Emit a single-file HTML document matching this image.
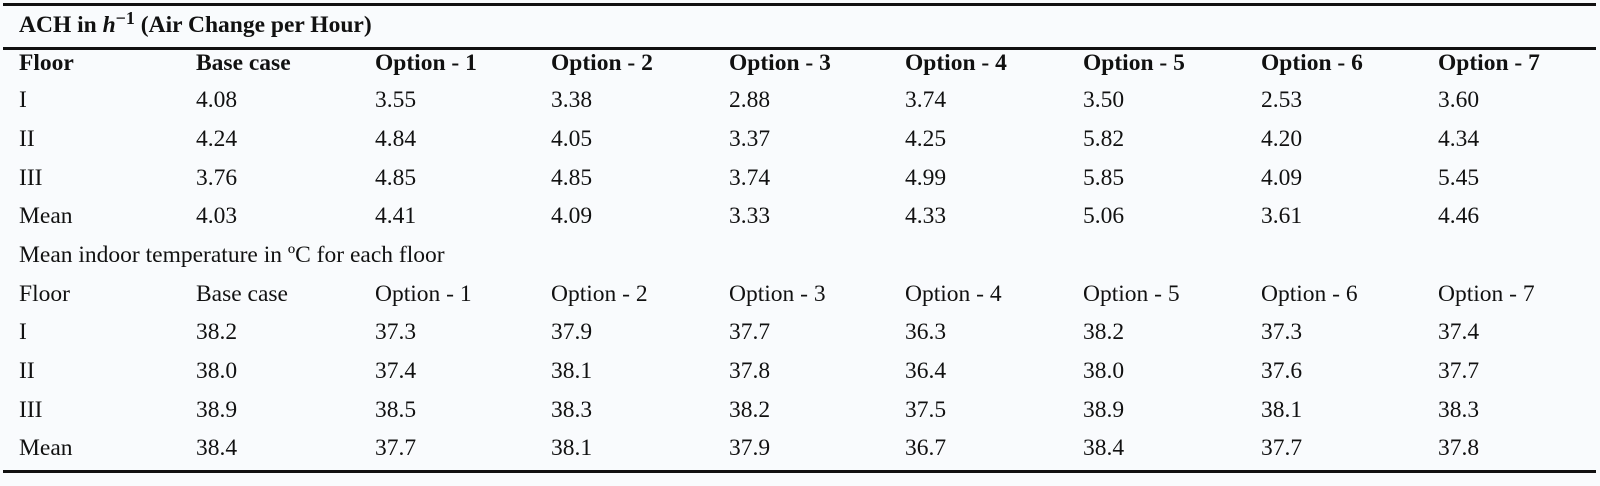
<!DOCTYPE html>
<html><head><meta charset="utf-8"><style>
html,body{margin:0;padding:0}
body{width:1600px;height:486px;background:#f9fbfd;position:relative;overflow:hidden;font-family:"Liberation Serif",serif;font-size:23.5px;color:#111}
.l{position:absolute;left:3px;width:1593px;background:#111}
.r{position:absolute;left:0;height:26px;line-height:26px;width:1600px}
.r span{position:absolute;top:0;white-space:nowrap}
.b{font-weight:bold}
</style></head><body>
<div class="l" style="top:3px;height:3px"></div>
<div class="l" style="top:47px;height:3px"></div>
<div class="l" style="top:470px;height:3px"></div>
<div class="r b" style="top:12px"><span style="left:19px">ACH in <i>h</i><sup style="font-size:18px;vertical-align:8px;line-height:0">−1</sup> (Air Change per Hour)</span></div>
<div id="rows"></div>
<script>
const cols=[19,196,375,551,729,905,1083,1261,1438];
const rows=[
[63,1,["Floor","Base case","Option - 1","Option - 2","Option - 3","Option - 4","Option - 5","Option - 6","Option - 7"]],
[100,0,["I","4.08","3.55","3.38","2.88","3.74","3.50","2.53","3.60"]],
[139,0,["II","4.24","4.84","4.05","3.37","4.25","5.82","4.20","4.34"]],
[178,0,["III","3.76","4.85","4.85","3.74","4.99","5.85","4.09","5.45"]],
[216,0,["Mean","4.03","4.41","4.09","3.33","4.33","5.06","3.61","4.46"]],
[255,0,["Mean indoor temperature in ºC for each floor"]],
[294,0,["Floor","Base case","Option - 1","Option - 2","Option - 3","Option - 4","Option - 5","Option - 6","Option - 7"]],
[332,0,["I","38.2","37.3","37.9","37.7","36.3","38.2","37.3","37.4"]],
[371,0,["II","38.0","37.4","38.1","37.8","36.4","38.0","37.6","37.7"]],
[410,0,["III","38.9","38.5","38.3","38.2","37.5","38.9","38.1","38.3"]],
[448,0,["Mean","38.4","37.7","38.1","37.9","36.7","38.4","37.7","37.8"]]];
let h="";
for(const [y,b,c] of rows){h+=`<div class="r${b?' b':''}" style="top:${y-13}px">`;c.forEach((t,i)=>h+=`<span style="left:${cols[i]}px">${t}</span>`);h+="</div>";}
document.getElementById("rows").innerHTML=h;
</script>
</body></html>
